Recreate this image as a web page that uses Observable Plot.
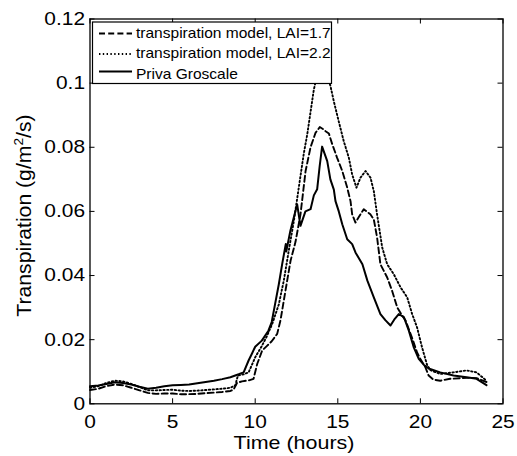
<!DOCTYPE html>
<html><head><meta charset="utf-8">
<script src="https://cdn.jsdelivr.net/npm/d3@7"></script>
<script src="https://cdn.jsdelivr.net/npm/@observablehq/plot@0.6"></script>
<style>body{margin:0;background:#fff;} #chart{width:517px;height:456px;}</style>
</head><body><div id="chart"></div>
<script>
// ---- data ----
const timePriva = [0,0.5,1,1.5,2,2.5,3,3.5,4,4.5,5,5.5,6,6.5,7,7.5,8,8.5,9,9.3,9.6,9.8,10,10.4,10.8,11,11.2,11.43,11.63,11.85,11.88,12.13,12.43,12.54,12.74,13.04,13.35,13.55,13.75,13.9,14.05,14.2,14.36,14.55,14.76,14.86,15.06,15.27,15.57,15.87,16.07,16.49,16.79,17.18,17.58,17.89,18.19,18.45,18.69,19,19.3,19.6,19.9,20.2,20.5,21.2,22,22.8,23.4,24];
const priva = [0.0055,0.0057,0.0062,0.0067,0.0065,0.006,0.0053,0.0047,0.005,0.0055,0.0058,0.0059,0.006,0.0064,0.0068,0.0072,0.0077,0.0083,0.0092,0.0098,0.0135,0.0156,0.0178,0.0197,0.0228,0.0255,0.031,0.0373,0.0435,0.0498,0.0475,0.054,0.060,0.0622,0.0555,0.060,0.0607,0.065,0.0669,0.074,0.0802,0.078,0.0757,0.070,0.0668,0.0632,0.0600,0.056,0.0513,0.0498,0.0472,0.0435,0.0384,0.0332,0.028,0.026,0.0244,0.0265,0.028,0.027,0.0228,0.0176,0.014,0.0122,0.011,0.0098,0.0088,0.0083,0.0078,0.0058];

const timeLai17 = [0,0.5,1,1.5,2,2.5,3,3.5,4,4.5,5,5.5,6,6.5,7,7.5,8,8.5,8.7,8.9,9.2,9.6,9.9,10.12,10.42,10.7,11,11.33,11.53,11.83,12.14,12.44,12.74,13.05,13.35,13.65,13.91,14.1,14.26,14.46,14.66,14.96,15.27,15.57,15.77,15.87,16.07,16.3,16.57,16.97,17.18,17.38,17.58,17.99,18.29,18.6,18.9,19.1,19.5,19.8,20,20.3,20.5,20.8,21.2,21.8,22.8,23.4,24];
const lai17 = [0.0043,0.0047,0.0055,0.006,0.0058,0.005,0.0042,0.0034,0.0031,0.0032,0.0032,0.003,0.003,0.0031,0.0033,0.0035,0.0037,0.004,0.0045,0.0065,0.007,0.0073,0.0078,0.0124,0.0166,0.018,0.0195,0.0218,0.026,0.0352,0.0446,0.0505,0.059,0.0726,0.080,0.0845,0.0863,0.0857,0.085,0.0843,0.081,0.0767,0.0726,0.0674,0.0632,0.0591,0.0565,0.0585,0.0607,0.0591,0.0575,0.0518,0.0435,0.0394,0.0352,0.030,0.0275,0.026,0.0205,0.016,0.0140,0.0114,0.0088,0.0075,0.0072,0.0078,0.0081,0.008,0.0068];

const timeLai22 = [0,0.5,1,1.5,2,2.5,3,3.5,4,4.5,5,5.5,6,6.5,7,7.5,8,8.5,8.8,8.95,9.3,9.6,10,10.4,10.7,11.03,11.43,11.73,12.03,12.34,12.54,12.74,12.94,13.15,13.35,13.55,13.75,13.95,14.15,14.35,14.56,14.76,15.06,15.36,15.67,15.87,16.13,16.37,16.68,16.98,17.18,17.38,17.69,17.99,18.39,18.8,19.2,19.5,19.8,20.1,20.4,20.6,21.2,22,22.8,23.4,24];
const lai22 = [0.005,0.0055,0.0065,0.0072,0.007,0.0062,0.0052,0.0042,0.0042,0.0043,0.0044,0.0041,0.004,0.0041,0.0043,0.0045,0.0047,0.005,0.0058,0.0088,0.0092,0.0098,0.0145,0.018,0.021,0.0249,0.031,0.0384,0.0477,0.057,0.064,0.071,0.078,0.084,0.091,0.098,0.1025,0.105,0.1055,0.103,0.099,0.0943,0.088,0.0819,0.0767,0.0715,0.0674,0.0705,0.0726,0.0705,0.0663,0.059,0.0487,0.0435,0.0404,0.0363,0.0332,0.028,0.0238,0.0176,0.0122,0.0105,0.0093,0.0098,0.0104,0.0098,0.0072];

const seriesNames = ["transpiration model, LAI=1.7", "transpiration model, LAI=2.2", "Priva Groscale"];
const xTicks = [0, 5, 10, 15, 20, 25];
const yTicks = [0, 0.02, 0.04, 0.06, 0.08, 0.1, 0.12];
const xLabel = "Time (hours)";
const yLabelMain = "Transpiration (g/m";
const yLabelSup = "2";
const yLabelEnd = "/s)";

// ---- build chart ----
const rows = (ts, vs, s) => ts.map((t, i) => ({t, v: vs[i], s}));
const styles = {
  [seriesNames[0]]: {dash: "6,3.2", w: 1.9},
  [seriesNames[1]]: {dash: "1.4,2.4", w: 1.9},
  [seriesNames[2]]: {dash: null, w: 2}
};
const W = 517, H = 456, mL = 89.5, mR = 14.5, mT = 18.5, mB = 52.7;
const plotW = W - mL - mR, plotH = H - mT - mB, tick = 5;
const font = "'Liberation Sans', Arial, Helvetica, sans-serif";

const plot = Plot.plot({
  width: W, height: H,
  marginLeft: mL, marginRight: mR, marginTop: mT, marginBottom: mB,
  x: {domain: [0, 25]},
  y: {domain: [0, 0.12]},
  style: {fontFamily: font, fontSize: "18.5px", color: "black", background: "white"},
  marks: [
    Plot.line(rows(timeLai22, lai22, seriesNames[1]), {x: "t", y: "v", stroke: "black", strokeWidth: styles[seriesNames[1]].w, strokeDasharray: styles[seriesNames[1]].dash}),
    Plot.line(rows(timeLai17, lai17, seriesNames[0]), {x: "t", y: "v", stroke: "black", strokeWidth: styles[seriesNames[0]].w, strokeDasharray: styles[seriesNames[0]].dash}),
    Plot.line(rows(timePriva, priva, seriesNames[2]), {x: "t", y: "v", stroke: "black", strokeWidth: styles[seriesNames[2]].w}),
    Plot.tickX(xTicks, {x: d => d, stroke: "black", strokeWidth: 1, insetTop: plotH - tick}),
    Plot.tickX(xTicks, {x: d => d, stroke: "black", strokeWidth: 1, insetBottom: plotH - tick}),
    Plot.tickY(yTicks, {y: d => d, stroke: "black", strokeWidth: 1, insetRight: plotW - tick}),
    Plot.tickY(yTicks, {y: d => d, stroke: "black", strokeWidth: 1, insetLeft: plotW - tick}),
    Plot.frame({stroke: "black", strokeWidth: 1.3}),
    Plot.axisX(xTicks, {anchor: "bottom", tickSize: 0, tickPadding: 11, tickFormat: d => String(d), label: null, fill: "black"}),
    Plot.axisY(yTicks, {anchor: "left", tickSize: 0, tickPadding: 5, tickFormat: d => String(d), label: null, fill: "black"})
  ]
});
document.getElementById("chart").appendChild(plot);

const svg = d3.select(plot);
// widen the tick labels a little, like the reference's rendering
svg.selectAll('g[aria-label="x-axis tick label"] text, g[aria-label="y-axis tick label"] text').each(function () {
  const len = this.getComputedTextLength();
  this.setAttribute("textLength", (len * 1.13).toFixed(2));
  this.setAttribute("lengthAdjust", "spacingAndGlyphs");
});

// axis titles
svg.append("text").attr("transform", "translate(294,448.5) scale(1.13,1)").attr("text-anchor", "middle")
  .attr("font-family", font).attr("font-size", 19).attr("fill", "black").text(xLabel);
const yl = svg.append("text").attr("transform", "translate(30.5,215.5) rotate(-90) scale(1.06,1)").attr("text-anchor", "middle")
  .attr("font-family", font).attr("font-size", 20).attr("fill", "black");
yl.append("tspan").text(yLabelMain);
yl.append("tspan").attr("dy", -8).attr("font-size", 13).text(yLabelSup);
yl.append("tspan").attr("dy", 8).text(yLabelEnd);

// legend inside the axes
const lg = svg.append("g");
lg.append("rect").attr("x", 92.5).attr("y", 22).attr("width", 239).attr("height", 61.5)
  .attr("fill", "white").attr("stroke", "black").attr("stroke-width", 1.2);
const rowY = [33.5, 54, 71.5];
const textY = [37.8, 58, 79];
seriesNames.forEach((name, i) => {
  const st = styles[name];
  lg.append("line").attr("x1", 99).attr("x2", 132).attr("y1", rowY[i]).attr("y2", rowY[i])
    .attr("stroke", "black").attr("stroke-width", st.w).attr("stroke-dasharray", st.dash);
  lg.append("text").attr("transform", `translate(136,${textY[i]}) scale(1.11,1)`).attr("text-anchor", "start")
    .attr("font-family", font).attr("font-size", 14).attr("fill", "black").text(name);
});
</script>
</body></html>
